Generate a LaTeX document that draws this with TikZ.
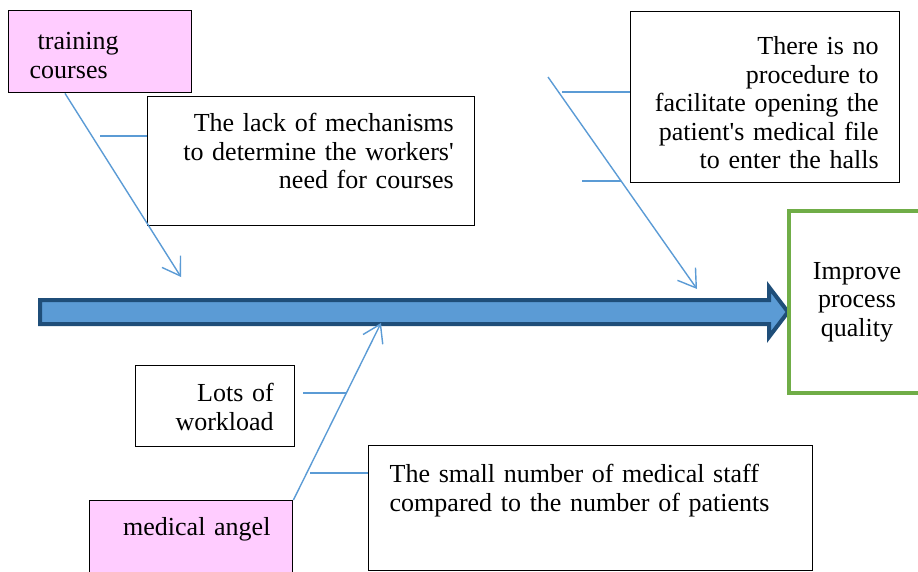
\documentclass[tikz,border=0pt]{standalone}
\usepackage{fontspec}
\setmainfont{Liberation Serif}
\usetikzlibrary{arrows.meta,calc}
\definecolor{bonecol}{HTML}{5B9BD5}
\definecolor{spinecol}{HTML}{1F4E79}
\definecolor{goalcol}{HTML}{70AD47}
\definecolor{pinkcol}{HTML}{FFCCFF}
\tikzset{
	causebox/.style={draw, line width=1.4pt, fill=white, anchor=north west, inner xsep=21pt, inner ysep=0pt, font=\fontsize{26}{28.5}\selectfont},
	rootbox/.style={causebox, fill=pinkcol},
	bone/.style={draw=bonecol, line width=1.4pt, -{Straight Barb[length=17pt,width=22pt]}},
	twig/.style={draw=bonecol, line width=1.4pt},
}

\begin{document}
\begin{tikzpicture}[x=1pt, y=-1pt]
		%%%%% START %%%%%
		\useasboundingbox (0,0) rectangle (918,572);
		
		\node[rootbox, text width=141pt, align=left, text height=39pt, text depth=43pt] (training) at (8,10) {\hspace*{8pt}training\\courses};
		\node[causebox, text width=285pt, align=right, text height=35pt, text depth=94pt] (lack) at (147,96) {The lack of mechanisms\\to determine the workers\textquotesingle\\need for courses};
		\node[causebox, text width=227pt, align=right, text height=43pt, text depth=128pt] (proc) at (630,11) {There is no\\procedure to\\facilitate opening the\\patient\textquotesingle s medical file\\to enter the halls};
		
		\node[causebox, text width=117pt, align=right, text height=36pt, text depth=45pt] (lots) at (135,365) {Lots of\\workload};
		\node[causebox, text width=402pt, align=left, text height=37pt, text depth=88pt] (small) at (368,445) {The small number of medical staff\\compared to the number of patients};
		\node[rootbox, inner xsep=16.5pt, text width=170pt, align=left, text height=35pt, text depth=47pt] (medical) at (89,500) {\hspace*{17pt}medical angel};
		
		\draw[line width=4pt, draw=spinecol, fill=bonecol, line join=miter] (40,300) -- (769,300) -- (769,287) -- (788,312) -- (769,337) -- (769,324) -- (40,324) -- cycle;
		\node[draw=goalcol, line width=4pt, fill=white, inner sep=0pt, minimum width=136pt, minimum height=182pt, align=center, font=\fontsize{26}{28.5}\selectfont] (goal) at (857,302) {Improve\\process\\quality};
		
		\coordinate (t1) at (181,277);
		\coordinate (s2) at (548,77);
		\coordinate (t2) at (697,289);
		\coordinate (t3) at (381,323);
		\draw[bone] ($(training.south west)+(57,0)$) -- (t1);
		\draw[bone] (s2) -- (t2);
		\draw[bone] (medical.north east) -- (t3);
		
		\coordinate (k1) at (100,136);
		\coordinate (k2) at (562,92);
		\coordinate (k3) at (582,181);
		\coordinate (k3e) at (621,181);
		\coordinate (k4) at (347,393);
		\coordinate (k5) at (310,473);
		\draw[twig] (k1) -- (k1 -| lack.west);
		\draw[twig] (k2) -- (k2 -| proc.west);
		\draw[twig] (k3) -- (k3e);
		\draw[twig] (k4) -- ($(k4 -| lots.east)+(8,0)$);
		\draw[twig] (k5) -- (k5 -| small.west);
		
		%%%%% END %%%%%
\end{tikzpicture}
\end{document}
